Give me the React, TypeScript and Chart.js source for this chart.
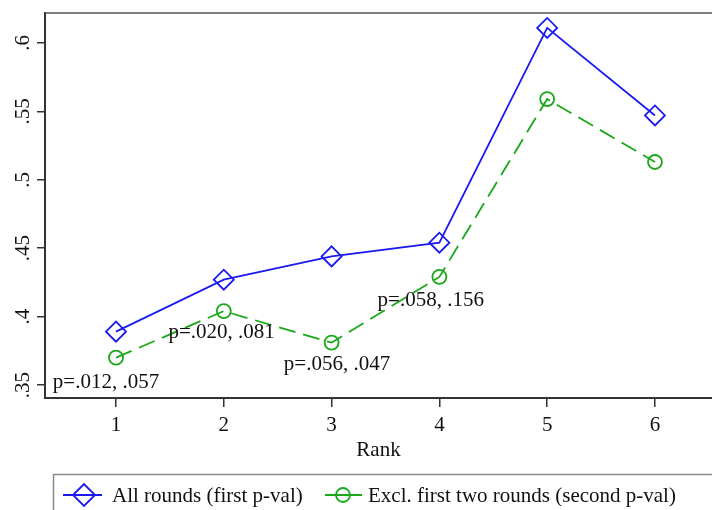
import React, { useEffect, useRef } from "react";
import { Chart, registerables } from "chart.js";

Chart.register(...registerables);

const FONT = "'Liberation Serif', 'Times New Roman', serif";
const FONT_SIZE = 21;

const ranks = [1, 2, 3, 4, 5, 6];
const allRounds = [0.389, 0.427, 0.444, 0.454, 0.611, 0.547];
const exclFirstTwo = [0.37, 0.404, 0.381, 0.429, 0.559, 0.513];
const yTicks = [0.35, 0.4, 0.45, 0.5, 0.55, 0.6];
const yTickLabels = [".35", ".4", ".45", ".5", ".55", ".6"];
const seriesNames = ["All rounds (first p-val)", "Excl. first two rounds (second p-val)"];
const pLabels = ["p=.012, .057", "p=.020, .081", "p=.056, .047", "p=.058, .156"];
const pLabelX = [0.907, 1.98, 3.05, 3.92];
const pLabelY = [0.3478, 0.3844, 0.361, 0.4078];

const BLUE = "#1a1af0";
const GREEN = "#1aa81a";
const AXIS = "#333333";

const decorPlugin = {
  id: "decor",
  afterDraw(chart: any) {
    const ctx = chart.ctx as CanvasRenderingContext2D;
    const area = chart.chartArea;
    const xs = chart.scales.x;
    const ys = chart.scales.y;
    ctx.save();
    // top border of plot region
    ctx.strokeStyle = "#555555";
    ctx.lineWidth = 1.5;
    ctx.beginPath();
    ctx.moveTo(area.left, area.top);
    ctx.lineTo(area.right + 5, area.top);
    ctx.stroke();

    // p-value annotations
    ctx.fillStyle = "#111111";
    ctx.font = `${FONT_SIZE}px ${FONT}`;
    ctx.textAlign = "center";
    ctx.textBaseline = "alphabetic";
    pLabels.forEach((t, i) => {
      ctx.fillText(t, xs.getPixelForValue(pLabelX[i]), ys.getPixelForValue(pLabelY[i]));
    });

    // legend box
    ctx.strokeStyle = "#8a8a8a";
    ctx.lineWidth = 1.5;
    ctx.strokeRect(53.5, 474.5, 700, 60);
    const cy = 495;
    // blue item
    ctx.strokeStyle = BLUE;
    ctx.lineWidth = 1.8;
    ctx.beginPath();
    ctx.moveTo(63, cy);
    ctx.lineTo(102, cy);
    ctx.stroke();
    ctx.beginPath();
    ctx.moveTo(84 - 11, cy);
    ctx.lineTo(84, cy - 11);
    ctx.lineTo(84 + 11, cy);
    ctx.lineTo(84, cy + 11);
    ctx.closePath();
    ctx.stroke();
    // green item
    ctx.strokeStyle = GREEN;
    ctx.beginPath();
    ctx.moveTo(325, cy);
    ctx.lineTo(362, cy);
    ctx.stroke();
    ctx.beginPath();
    ctx.arc(343, cy, 7, 0, Math.PI * 2);
    ctx.stroke();
    ctx.fillStyle = "#111111";
    ctx.textAlign = "left";
    ctx.fillText(seriesNames[0], 112, 502);
    ctx.fillText(seriesNames[1], 368, 502);
    ctx.restore();
  },
};

export default function App() {
  const ref = useRef<HTMLCanvasElement>(null);
  useEffect(() => {
    const canvas = ref.current!;
    const chart = new Chart(canvas, {
      type: "line",
      data: {
        datasets: [
          {
            label: seriesNames[0],
            data: ranks.map((r, i) => ({ x: r, y: allRounds[i] })),
            borderColor: BLUE,
            borderWidth: 1.8,
            backgroundColor: "rgba(0,0,0,0)",
            pointStyle: "rectRot",
            pointRadius: 10,
            pointBorderWidth: 1.8,
            pointBorderColor: BLUE,
            pointBackgroundColor: "rgba(0,0,0,0)",
            tension: 0,
            clip: false as any,
          },
          {
            label: seriesNames[1],
            data: ranks.map((r, i) => ({ x: r, y: exclFirstTwo[i] })),
            borderColor: GREEN,
            borderWidth: 1.8,
            borderDash: [17, 8],
            backgroundColor: "rgba(0,0,0,0)",
            pointStyle: "circle",
            pointRadius: 7,
            pointBorderWidth: 1.8,
            pointBorderColor: GREEN,
            pointBackgroundColor: "rgba(0,0,0,0)",
            tension: 0,
            clip: false as any,
          },
        ],
      },
      options: {
        animation: false,
        responsive: false,
        devicePixelRatio: 1,
        layout: { autoPadding: false, padding: { left: 0, top: 13, right: 0, bottom: 47 } },
        plugins: { legend: { display: false }, tooltip: { enabled: false } },
        scales: {
          x: {
            type: "linear",
            min: 0.3414,
            max: 6.529,
            afterBuildTicks: (s: any) => {
              s.ticks = ranks.map((v) => ({ value: v }));
            },
            afterFit: (s: any) => {
              s.height = 65;
              s.paddingLeft = 0;
              s.paddingRight = 0;
            },
            grid: { drawOnChartArea: false, drawTicks: true, tickLength: 9, color: AXIS, lineWidth: 1.5 },
            border: { display: true, color: AXIS, width: 2 },
            ticks: {
              color: "#111111",
              font: { family: FONT, size: FONT_SIZE },
              padding: 6,
              maxRotation: 0,
              minRotation: 0,
              callback: (v: any) => String(v),
            },
            title: {
              display: true,
              text: "Rank",
              color: "#111111",
              font: { family: FONT, size: FONT_SIZE },
              padding: { top: 0, bottom: 0 },
            },
          },
          y: {
            type: "linear",
            min: 0.3405,
            max: 0.6219,
            afterBuildTicks: (s: any) => {
              s.ticks = yTicks.map((v) => ({ value: v }));
            },
            afterFit: (s: any) => {
              s.width = 45;
              s.paddingTop = 0;
              s.paddingBottom = 0;
            },
            grid: { drawOnChartArea: false, drawTicks: true, tickLength: 8, color: AXIS, lineWidth: 1.5 },
            border: { display: true, color: AXIS, width: 2 },
            ticks: {
              color: "#111111",
              font: { family: FONT, size: FONT_SIZE },
              padding: 0,
              minRotation: 90,
              maxRotation: 90,
              crossAlign: "center",
              callback: (v: any) => {
                const i = yTicks.findIndex((t) => Math.abs(t - v) < 1e-9);
                return i >= 0 ? yTickLabels[i] : "";
              },
            },
          },
        },
      },
      plugins: [decorPlugin],
    } as any);
    return () => chart.destroy();
  }, []);
  return (
    <div style={{ position: "absolute", left: 0, top: 0, width: 712, height: 510, overflow: "hidden" }}>
      <canvas ref={ref} width={712} height={510} style={{ display: "block", width: 712, height: 510 }} />
    </div>
  );
}
